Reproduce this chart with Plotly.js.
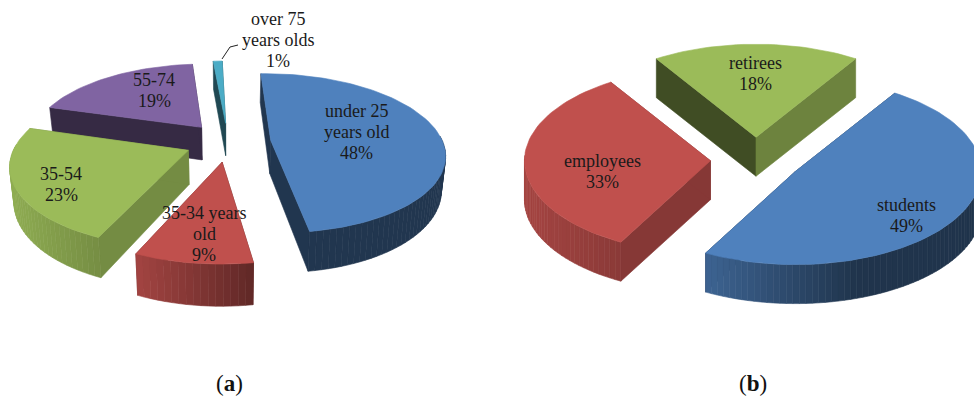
<!DOCTYPE html>
<html>
<head>
<meta charset="utf-8">
<script src="https://cdn.plot.ly/plotly-3.0.1.min.js"></script>
<style>html,body{margin:0;padding:0;background:#fff}#chart{width:974px;height:396px}</style>
</head>
<body>
<div id="chart"></div>
<script>
// Age groups of panel (a), percent
const categoriesA = ['under 25|years old', '35-34 years|old', '35-54', '55-74', 'over 75|years olds'];
const valuesA = [48, 9, 23, 19, 1];
// Occupation groups of panel (b), percent
const categoriesB = ['students', 'employees', 'retirees'];
const valuesB = [49, 33, 18];
const captions = ['(<b>a</b>)', '(<b>b</b>)'];

const BLUE = [79, 129, 189], RED = [192, 80, 77], GREEN = [155, 187, 89], PURPLE = [128, 100, 162], TEAL = [75, 172, 198];

// Rendering set-up of each exploded pie: projection, colours and wall shading
const pieA = {
  cx: 228, cy: 142, a: 172, b: 78, k: 0.1625, depth: 33.6, shrink: 0.02, start: -1.5,
  explode: [0.25, 0.25, 0.25, 0.25, 0.25],
  colors: [BLUE, RED, GREEN, PURPLE, TEAL],
  wall: [[[0, .42], [1, .42]], [[0, .85], [1, .5]], [[0, .92], [1, .76]], [[0, .42], [1, .42]], [[0, .45], [1, .45]]],
  rays: [[.42, .42], [.5, .6], [.75, .75], [.42, .42], [.42, .42]],
  labelXY: [[356, 111], [204, 213], [61, 174], [154, 80], [278, 19]]
};
const pieB = {
  cx: 756, cy: 160, a: 186, b: 93, k: 0, depth: 39, shrink: 0, start: 32.4,
  explode: [0.245, 0.245, 0.245],
  colors: [BLUE, RED, GREEN],
  wall: [[[0, .77], [.55, .4], [1, .4]], [[0, .86], [1, .72]], [[0, .7], [1, .7]]],
  rays: [[.4, .4], [.7, .7], [.41, .7]],
  labelXY: [[906, 205], [602, 161], [755, 63]]
};

const rad = d => d * Math.PI / 180;
const css = (rgb, s) => 'rgb(' + rgb.map(c => Math.round(c * s)).join(',') + ')';

function shadeAt(stops, t) {
  for (let i = 1; i < stops.length; i++) {
    if (t <= stops[i][0]) {
      const [t0, s0] = stops[i - 1], [t1, s1] = stops[i];
      return s0 + (s1 - s0) * (t - t0) / (t1 - t0 || 1);
    }
  }
  return stops[stops.length - 1][1];
}

function polygon(xs, ys, color) {
  return {
    type: 'scatter', mode: 'lines', x: xs, y: ys, fill: 'toself', fillcolor: color,
    line: {color: color, width: 0.6}, hoverinfo: 'skip', showlegend: false
  };
}

// Builds the slices back to front: lower walls first, flat top last
function buildPie(values, cfg) {
  const project = (X, Y, z) => {
    const f = 1 / (1 + cfg.k * Y);
    const x = cfg.a * X * f * (1 - z * cfg.shrink);
    return [cfg.cx + x, cfg.cy - cfg.b * Y * f + z * cfg.depth * f];
  };
  const total = values.reduce((s, v) => s + v, 0);
  let angle = cfg.start;
  const slices = values.map((v, i) => {
    const sweep = v / total * 360, from = angle, to = angle + sweep;
    angle = to;
    const mid = rad(from + sweep / 2);
    const ox = cfg.explode[i] * Math.sin(mid), oy = cfg.explode[i] * Math.cos(mid);
    return {i, from, to, ox, oy};
  }).sort((p, q) => q.oy - p.oy);

  const traces = [];
  slices.forEach(s => {
    const color = cfg.colors[s.i];
    const steps = Math.max(4, Math.round((s.to - s.from) / 2));
    const rim = [];
    for (let n = 0; n <= steps; n++) {
      const t = rad(s.from + (s.to - s.from) * n / steps);
      rim.push([s.ox + Math.sin(t), s.oy + Math.cos(t)]);
    }
    const apex = [s.ox, s.oy];
    const quad = (p, q, shade) => {
      const c = [project(p[0], p[1], 0), project(q[0], q[1], 0), project(q[0], q[1], 1), project(p[0], p[1], 1)];
      return polygon(c.map(e => e[0]).concat(c[0][0]), c.map(e => e[1]).concat(c[0][1]), css(color, shade));
    };
    // Radial walls sit behind the rim whenever both are in view
    traces.push(quad(apex, rim[0], cfg.rays[s.i][0]));
    traces.push(quad(apex, rim[steps], cfg.rays[s.i][1]));
    // Curved wall, one narrow strip per step so its shade can run across the screen
    const px = rim.map(p => project(p[0], p[1], 0)[0]);
    const minX = Math.min(...px), maxX = Math.max(...px);
    for (let n = 0; n < steps; n++) {
      if (rim[n][1] - s.oy > 0.05 && rim[n + 1][1] - s.oy > 0.05) continue;
      const t = (px[n] + px[n + 1]) / 2;
      traces.push(quad(rim[n], rim[n + 1], shadeAt(cfg.wall[s.i], (t - minX) / (maxX - minX || 1))));
    }
    // Flat top of the slice
    const top = [apex].concat(rim, [apex]).map(p => project(p[0], p[1], 0));
    traces.push(polygon(top.map(e => e[0]), top.map(e => e[1]), css(color, 1)));
  });
  return traces;
}

// Stacked label lines: category on the upper lines, percentage underneath
function labelAnnotations(categories, values, cfg) {
  const out = [];
  categories.forEach((name, i) => {
    const lines = name.split('|').concat(values[i] + '%');
    lines.forEach((line, n) => out.push({
      x: cfg.labelXY[i][0], y: cfg.labelXY[i][1] + n * 21.2, xref: 'x', yref: 'y',
      text: line, showarrow: false, xanchor: 'center', yanchor: 'middle',
      font: {family: '"Liberation Serif", serif', size: 18, color: '#1a1a1a'}
    }));
  });
  return out;
}

const leader = {
  type: 'scatter', mode: 'lines', x: [238, 230, 222], y: [45, 47, 59],
  line: {color: '#222', width: 1}, hoverinfo: 'skip', showlegend: false
};

const captionAnnotations = captions.map((text, i) => ({
  x: [229, 753][i], y: 383, xref: 'x', yref: 'y', text: text, showarrow: false,
  xanchor: 'center', yanchor: 'middle',
  font: {family: '"Liberation Serif", serif', size: 23, color: '#111'}
}));

const layout = {
  width: 974, height: 396, margin: {l: 0, r: 0, t: 0, b: 0},
  paper_bgcolor: '#fff', plot_bgcolor: '#fff', showlegend: false,
  xaxis: {range: [0, 974], visible: false, fixedrange: true},
  yaxis: {range: [396, 0], visible: false, fixedrange: true},
  annotations: labelAnnotations(categoriesA, valuesA, pieA)
    .concat(labelAnnotations(categoriesB, valuesB, pieB), captionAnnotations)
};

Plotly.newPlot('chart', buildPie(valuesA, pieA).concat(buildPie(valuesB, pieB), [leader]), layout, {displayModeBar: false, staticPlot: true});
</script>
</body>
</html>
